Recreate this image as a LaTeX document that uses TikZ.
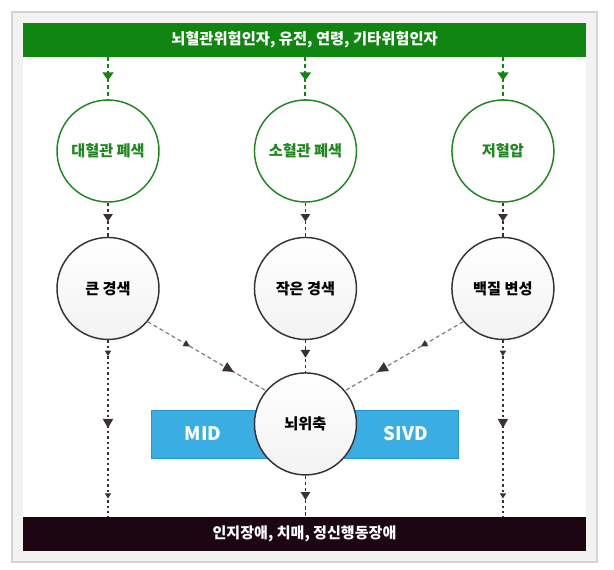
\documentclass[tikz,border=0pt]{standalone}
\usepackage{fontspec}
\setmainfont{Noto Sans CJK KR}
\usepackage{xcolor}
\usepackage{tikz}
\usetikzlibrary{
    arrows.meta,
    positioning,
    decorations.markings
}

\definecolor{riskgreen}{RGB}{17,133,17}
\definecolor{causegreen}{RGB}{30,135,30}
\definecolor{outcomedark}{RGB}{27,6,18}
\definecolor{linedark}{RGB}{58,48,54}
\definecolor{linegray}{RGB}{128,122,126}
\definecolor{bandblue}{RGB}{58,173,226}
\definecolor{bandedge}{RGB}{36,150,212}
\definecolor{framefill}{RGB}{242,242,242}
\definecolor{frameedge}{RGB}{212,212,212}

\begin{document}
\begin{tikzpicture}[
        x=0.75pt,
        y=-0.75pt,
        node distance=25.5pt and 70.5pt,
        tipfill/.store in=\tipfill,
        tipfill=linedark,
        bar/.style={
            rectangle,
            minimum width=422.25pt,
            minimum height=25.5pt,
            inner sep=0pt,
            text=white,
            font=\fontsize{11.5}{14}\selectfont\bfseries
        },
        cause/.style={
            circle,
            draw=causegreen,
            line width=1.1pt,
            fill=white,
            minimum size=76.5pt,
            inner sep=0pt,
            text=causegreen,
            font=\fontsize{11.4}{13}\selectfont\bfseries
        },
        lesion/.style={
            circle,
            draw=linedark,
            line width=1.1pt,
            top color=white,
            bottom color=black!5,
            minimum size=76.5pt,
            inner sep=0pt,
            text=black,
            font=\fontsize{11.4}{13}\selectfont\bfseries
        },
        band/.style={
            rectangle,
            fill=bandblue,
            draw=bandedge,
            line width=0.6pt,
            minimum width=230.25pt,
            minimum height=36pt
        },
        bandtext/.style={
            text=white,
            font=\fontsize{14}{16}\selectfont\bfseries
        },
        tipat/.style n args={3}{
            postaction={
                decorate,
                decoration={
                    markings,
                    mark=at position #1 with {\arrow{Triangle[width=#2, length=#3, color=\tipfill]}}
                }
            }
        },
        greenflow/.style={
            draw=riskgreen,
            tipfill=riskgreen,
            line width=1.5pt,
            dash pattern=on 3pt off 2.2pt
        },
        darkflow/.style={
            draw=linedark,
            line width=1.1pt,
            dash pattern=on 2.4pt off 2.2pt
        },
        dotflow/.style={
            draw=linedark,
            line width=1.3pt,
            dash pattern=on 1.8pt off 2.2pt
        },
        grayflow/.style={
            draw=linegray,
            line width=0.9pt,
            dash pattern=on 3pt off 2.2pt
        }
    ]

    \useasboundingbox (0,0) rectangle (614,570);
    \filldraw[fill=framefill, draw=frameedge, line width=0.8pt] (12,12) rectangle (597,562);
    \fill[white] (23,23) rectangle (586,550);

    \node[bar, fill=riskgreen] (risk) at (304.5,40)
        {뇌혈관위험인자, 유전, 연령, 기타위험인자};
    \node[bar, fill=outcomedark, font=\fontsize{11.3}{13}\selectfont\bfseries] (outcome) at (304.5,533.5)
        {인지장애, 치매, 정신행동장애};

    \node[cause] (large) at (108,151) {대혈관 폐색};
    \node[cause, right=of large] (small) {소혈관 폐색};
    \node[cause, right=of small] (lowbp) {저혈압};

    \node[lesion, below=of large] (bigin) {큰 경색};
    \node[lesion, below=of small] (smallin) {작은 경색};
    \node[lesion, below=of lowbp] (white) {백질 변성};

    \node[band] (mixband) at (304.5,434) {};
    \node[bandtext] (mid) at (203,434) {MID};
    \node[bandtext] (sivd) at (406,434) {SIVD};

    \node[lesion, below=24pt of smallin] (atrophy) {뇌위축};

    \draw[greenflow, tipat={0.55}{8.2pt}{6pt}] (risk.south -| large) -- (large);
    \draw[greenflow, tipat={0.55}{8.2pt}{6pt}] (risk.south -| small) -- (small);
    \draw[greenflow, tipat={0.55}{8.2pt}{6pt}] (risk.south -| lowbp) -- (lowbp);

    \draw[darkflow, tipat={0.55}{7pt}{5.5pt}] (large) -- (bigin);
    \draw[darkflow, tipat={0.55}{7pt}{5.5pt}] (small) -- (smallin);
    \draw[darkflow, tipat={0.55}{7pt}{5.5pt}] (lowbp) -- (white);

    \draw[darkflow, tipat={0.55}{7pt}{6pt}] (smallin) -- (atrophy);
    \draw[darkflow, tipat={0.6}{7pt}{6pt}] (atrophy) -- (outcome.north -| atrophy);

    \draw[dotflow, tipat={0.09}{4.5pt}{4pt}, tipat={0.5}{7.5pt}{7pt}, tipat={0.9}{4.5pt}{4pt}]
        (bigin) -- (outcome.north -| bigin);
    \draw[dotflow, tipat={0.09}{4.5pt}{4pt}, tipat={0.5}{7.5pt}{7pt}, tipat={0.9}{4.5pt}{4pt}]
        (white) -- (outcome.north -| white);

    \draw[grayflow, tipat={0.36}{5pt}{5pt}, tipat={0.73}{7.5pt}{8pt}] (bigin.-40) -- (atrophy.140);
    \draw[grayflow, tipat={0.36}{5pt}{5pt}, tipat={0.73}{7.5pt}{8pt}] (white.-140) -- (atrophy.40);

\end{tikzpicture}
\end{document}
